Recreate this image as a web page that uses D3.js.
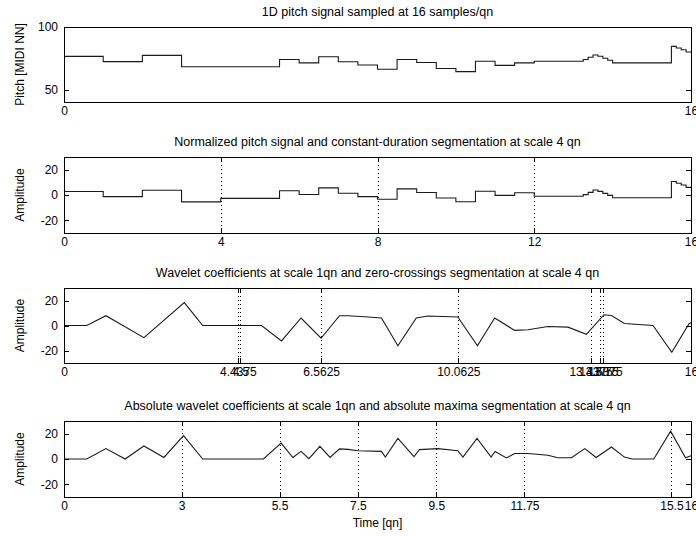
<!DOCTYPE html>
<html><head><meta charset="utf-8">
<script src="https://cdn.jsdelivr.net/npm/d3@7"></script>
<style>
body{margin:0;background:#fff;}
svg text{font-family:"Liberation Sans",Arial,sans-serif;fill:#000;}
</style></head><body><svg id="c" width="696" height="537"></svg>
<script>
// ---- 1D pitch signal (MIDI note number), step changes at these times [qn]
const pitchTimes  = [0,1,2,3,5.5,6,6.5,7,7.5,8,8.5,9,9.5,10,10.5,11,11.5,12,13.25,13.375,13.5,13.625,13.75,13.875,14,15.5,15.625,15.75,15.875];
const pitchValues = [76.5,72.3,77.3,68.2,74.0,71.3,76.2,72.2,69.6,66.2,74.0,71.6,66.8,64.3,72.6,69.3,71.3,72.6,74.0,75.8,77.6,76.6,75.0,73.4,71.3,84.5,83.2,81.8,80.0];

// ---- normalized pitch (per 4 qn segment)
const normTimes   = [0,1,2,3,4,5.5,6,6.5,7,7.5,8,8.5,9,9.5,10,10.5,11,11.5,12,13.25,13.375,13.5,13.625,13.75,13.875,14,15.5,15.625,15.75,15.875];
const normValues  = [2.8,-1.3,3.7,-5.4,-2.7,3.3,0.4,5.6,1.4,-1.3,-3.4,4.8,2.0,-2.4,-5.3,3.0,-0.3,1.8,-1.0,0.3,2.1,3.9,2.9,1.3,-0.3,-2.2,10.6,9.3,7.9,6.0];
const constSegments = [4,8,12];

// ---- wavelet coefficients at scale 1 qn (breakpoints)
const waveTimes  = [0,0.58,1.07,2.04,3.07,3.54,5.04,5.55,6.05,6.56,7.03,7.25,7.76,8.10,8.52,8.99,9.29,10.05,10.55,10.99,11.5,11.84,12.35,12.86,13.33,13.78,13.97,14.3,15.03,15.51,15.95,16];
const waveValues = [0,0,7.8,-9.7,18.3,0,0,-12.3,6.0,-10.2,7.8,7.8,6.8,6.0,-16.2,6.0,7.6,6.8,-16.2,6.0,-3.9,-3.4,-0.8,-1.3,-7.0,8.6,8.0,1.6,0,-21.4,1.5,2.1];
const zeroCrossSegments = [4.4375,4.5,6.5625,10.0625,13.4375,13.6875,13.75];

// ---- absolute wavelet coefficients (breakpoints)
const absTimes  = [0,0.58,1.07,1.56,2.04,2.55,3.05,3.54,5.09,5.54,5.84,6.05,6.25,6.53,6.79,7.03,7.25,7.5,8.1,8.2,8.52,8.93,9.07,9.54,10.05,10.18,10.54,10.9,11.0,11.29,11.5,11.84,12.35,12.6,12.95,13.29,13.58,13.97,14.3,14.5,15.05,15.48,15.86,16];
const absValues = [0,0,8.2,0,10.3,1.2,18.5,0,0,12.6,1.2,6.0,0.3,10.0,1.2,8.0,7.6,6.5,6.0,1.5,16.2,1.8,7.4,8.2,6.5,1.5,16.2,1.5,6.0,0.8,4.3,4.3,3.0,1.0,1.0,8.2,1.2,9.5,1.5,0,0,22.0,1.0,2.5];
const maximaSegments = [3,5.5,7.5,9.5,11.75,15.5];

const titles = [
  "1D pitch signal sampled at 16 samples/qn",
  "Normalized pitch signal and constant-duration segmentation at scale 4 qn",
  "Wavelet coefficients at scale 1qn and zero-crossings segmentation at scale 4 qn",
  "Absolute wavelet coefficients at scale 1qn and absolute maxima segmentation at scale 4 qn"
];
const yLabels = ["Pitch [MIDI NN]","Amplitude","Amplitude","Amplitude"];
const pitchYTicks = [50,100];
const ampYTicks = [-20,0,20];
const xLabel = "Time [qn]";

const stepPts = (ts, vs) => ts.map((t,i)=>[t,vs[i]]).concat([[16, vs[vs.length-1]]]);
const linPts  = (ts, vs) => ts.map((t,i)=>[t,vs[i]]);

const panels = [
  {top:27, bottom:102, ydom:[40,100], yticks:pitchYTicks, segs:[], pts:stepPts(pitchTimes,pitchValues), curve:d3.curveStepAfter},
  {top:157, bottom:233, ydom:[-30,30], yticks:ampYTicks, segs:constSegments, pts:stepPts(normTimes,normValues), curve:d3.curveStepAfter},
  {top:288, bottom:363, ydom:[-30,30], yticks:ampYTicks, segs:zeroCrossSegments, pts:linPts(waveTimes,waveValues), curve:d3.curveLinear},
  {top:421, bottom:497, ydom:[-30,30], yticks:ampYTicks, segs:maximaSegments, pts:linPts(absTimes,absValues), curve:d3.curveLinear}
];

const svg = d3.select("#c");
const left = 64, right = 691;
const x = d3.scaleLinear().domain([0,16]).range([left,right]);
const FS = 12, TFS = 12.5;

panels.forEach((p,i)=>{
  const y = d3.scaleLinear().domain(p.ydom).range([p.bottom,p.top]);
  const g = svg.append("g");
  const xt = [0].concat(p.segs).concat([16]);

  // segmentation markers
  g.selectAll("line.seg").data(p.segs).enter().append("line")
    .attr("x1",d=>Math.round(x(d))+0.5).attr("x2",d=>Math.round(x(d))+0.5)
    .attr("y1",p.top).attr("y2",p.bottom)
    .attr("stroke","#000").attr("stroke-width",1).attr("stroke-dasharray","1,3");

  // signal
  const line = d3.line().x(d=>x(d[0])).y(d=>y(d[1])).curve(p.curve);
  g.append("path").datum(p.pts).attr("d",line)
    .attr("fill","none").attr("stroke","#1a1a1a").attr("stroke-width",1.1);

  // axes with inward ticks
  const ax = (gen, tx, ty, labels) => {
    const a = g.append("g").attr("transform",`translate(${tx},${ty})`).call(gen);
    a.select(".domain").remove();
    a.selectAll("line").attr("stroke","#000").attr("shape-rendering","crispEdges");
    a.selectAll("text").attr("font-size",FS).attr("font-family","Liberation Sans, Arial, sans-serif");
    if(!labels) a.selectAll("text").remove();
    return a;
  };
  ax(d3.axisBottom(x).tickValues(xt).tickFormat(d=>String(d)).tickSizeInner(-5).tickSizeOuter(0).tickPadding(4),0,p.bottom,true);
  ax(d3.axisTop(x).tickValues(xt).tickSizeInner(-5).tickSizeOuter(0),0,p.top,false);
  ax(d3.axisLeft(y).tickValues(p.yticks).tickFormat(d=>String(d)).tickSizeInner(-5).tickSizeOuter(0).tickPadding(6),left,0,true);
  ax(d3.axisRight(y).tickValues(p.yticks).tickSizeInner(-5).tickSizeOuter(0),right,0,false);

  // box
  g.append("rect").attr("x",left+0.5).attr("y",p.top+0.5)
    .attr("width",right-left).attr("height",p.bottom-p.top)
    .attr("fill","none").attr("stroke","#000").attr("stroke-width",1);

  // title
  svg.append("text").attr("x",(left+right)/2).attr("y",p.top-11)
    .attr("text-anchor","middle").attr("font-size",TFS).text(titles[i]);

  // y label
  svg.append("text").attr("transform",`translate(24,${(p.top+p.bottom)/2}) rotate(-90)`)
    .attr("text-anchor","middle").attr("font-size",FS).text(yLabels[i]);
});

svg.append("text").attr("x",(left+right)/2).attr("y",527)
  .attr("text-anchor","middle").attr("font-size",FS).text(xLabel);
</script></body></html>
